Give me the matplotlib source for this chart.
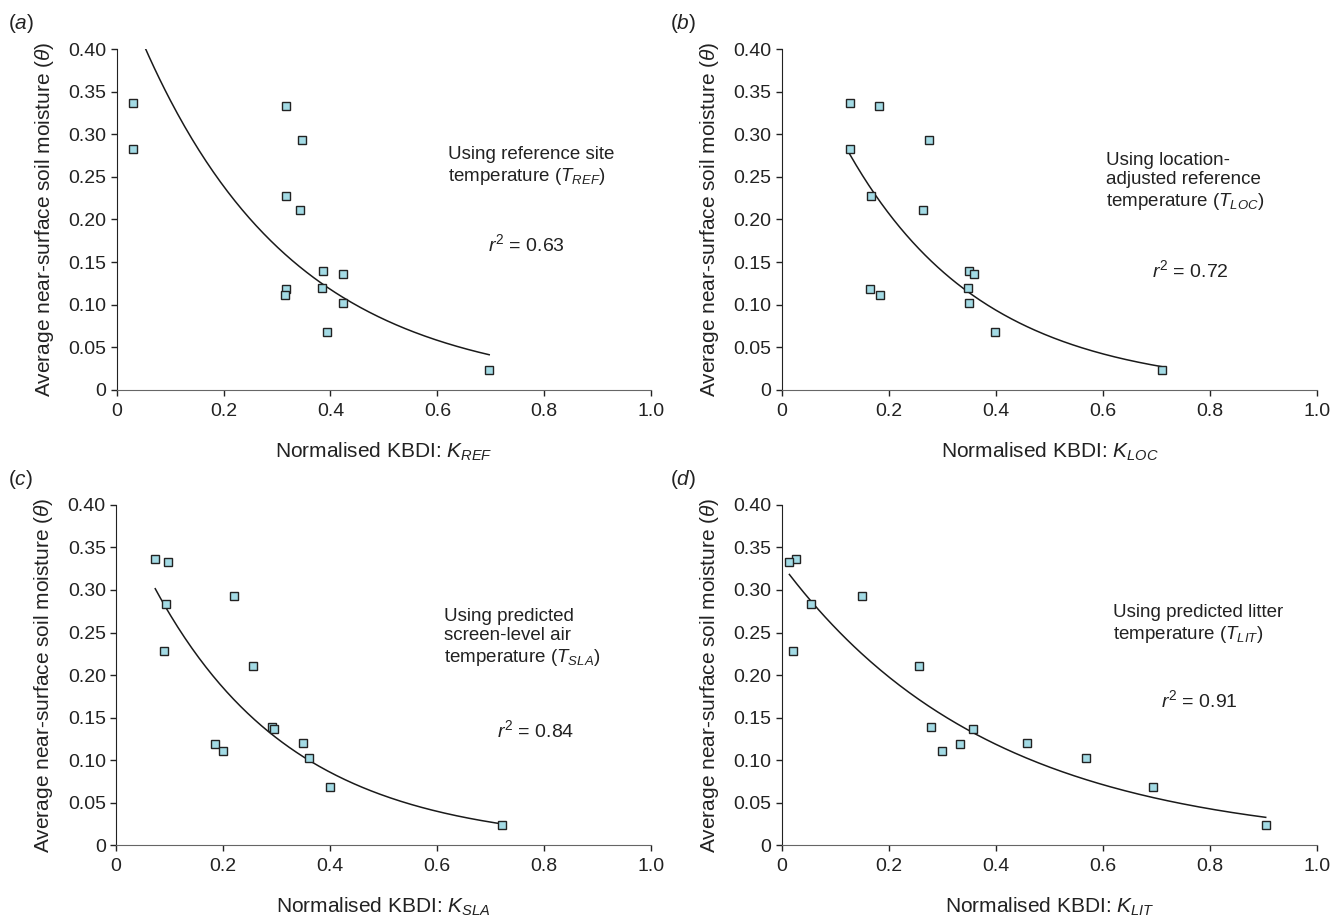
import numpy as np
import matplotlib; matplotlib.use('agg')
import matplotlib.pyplot as plt

plt.rcParams['font.family'] = ['Liberation Sans', 'DejaVu Sans']
plt.rcParams['mathtext.fontset'] = 'custom'
plt.rcParams['mathtext.rm'] = 'Liberation Sans'
plt.rcParams['mathtext.it'] = 'Liberation Sans:italic'
plt.rcParams['mathtext.bf'] = 'Liberation Sans:bold'

# Soil moisture (same sites in every panel)
theta = [0.337, 0.333, 0.293, 0.283, 0.228, 0.211, 0.139, 0.136, 0.120, 0.119, 0.111, 0.102, 0.068, 0.024]

# Normalised KBDI for each temperature source
k_ref = [0.031, 0.317, 0.346, 0.030, 0.317, 0.343, 0.386, 0.424, 0.384, 0.316, 0.315, 0.423, 0.394, 0.697]
k_loc = [0.127, 0.182, 0.275, 0.127, 0.166, 0.263, 0.350, 0.359, 0.348, 0.164, 0.184, 0.349, 0.398, 0.710]
k_sla = [0.073, 0.097, 0.221, 0.093, 0.090, 0.255, 0.291, 0.295, 0.349, 0.184, 0.199, 0.361, 0.400, 0.721]
k_lit = [0.026, 0.014, 0.150, 0.054, 0.020, 0.256, 0.279, 0.358, 0.458, 0.332, 0.300, 0.568, 0.693, 0.904]

panel_tags = ['a', 'b', 'c', 'd']
subscripts = ['REF', 'LOC', 'SLA', 'LIT']
notes = [
    'Using reference site\ntemperature ($T_{REF}$)',
    'Using location-\nadjusted reference\ntemperature ($T_{LOC}$)',
    'Using predicted\nscreen-level air\ntemperature ($T_{SLA}$)',
    'Using predicted litter\ntemperature ($T_{LIT}$)',
]
r2_text = ['0.63', '0.72', '0.84', '0.91']

xticks = [0, 0.2, 0.4, 0.6, 0.8, 1.0]
xtick_labels = ['0', '0.2', '0.4', '0.6', '0.8', '1.0']
yticks = [0, 0.05, 0.10, 0.15, 0.20, 0.25, 0.30, 0.35, 0.40]
ytick_labels = ['0', '0.05', '0.10', '0.15', '0.20', '0.25', '0.30', '0.35', '0.40']

# text placement (data coords) for the notes and r2
note_pos = [(0.62, 0.262), (0.606, 0.244), (0.613, 0.2435), (0.619, 0.260)]
r2_pos = [(0.694, 0.171), (0.692, 0.141), (0.712, 0.135), (0.709, 0.171)]

# axes rectangles in figure fractions
rects = [
    [0.0873, 0.5752, 0.3997, 0.3714],
    [0.5848, 0.5752, 0.4003, 0.3714],
    [0.0869, 0.0795, 0.4001, 0.3704],
    [0.5848, 0.0795, 0.4003, 0.3704],
]
tag_pos = [(0.006, 0.987), (0.501, 0.987), (0.006, 0.490), (0.501, 0.490)]

fig = plt.figure(figsize=(13.37, 9.18), dpi=100)
y = np.array(theta)
for i, k in enumerate([k_ref, k_loc, k_sla, k_lit]):
    ax = fig.add_axes(rects[i])
    x = np.array(k)

    # exponential trendline, fitted like a spreadsheet (least squares on ln y)
    b, ln_a = np.polyfit(x, np.log(y), 1)
    xs = np.linspace(x.min(), x.max(), 200)
    ax.plot(xs, np.exp(ln_a) * np.exp(b * xs), color='#1a1a1a', lw=1.1, zorder=2)

    ax.plot(x, y, ls='none', marker='s', ms=5.5, mfc='#a3dbe5', mec='#222222', mew=1.0, zorder=3)

    ax.set_xlim(0, 1.0)
    ax.set_ylim(0, 0.40)
    ax.set_xticks(xticks)
    ax.set_xticklabels(xtick_labels)
    ax.set_yticks(yticks)
    ax.set_yticklabels(ytick_labels)
    ax.tick_params(direction='out', length=4.5, width=1, labelsize=14, pad=3, colors='#222222')
    ax.tick_params(axis='x', pad=5)
    for s in ['top', 'right']:
        ax.spines[s].set_visible(False)
    ax.spines['left'].set_color('#222222')
    ax.spines['bottom'].set_color('#666666')

    ax.set_xlabel('Normalised KBDI: $K_{%s}$' % subscripts[i], fontsize=15, labelpad=15, color='#222222')
    ax.set_ylabel(r'Average near-surface soil moisture ($\theta$)', fontsize=15, labelpad=9, color='#222222')

    ax.text(note_pos[i][0], note_pos[i][1], notes[i], fontsize=13.5, ha='left', va='center',
            linespacing=1.2, color='#222222')
    ax.text(r2_pos[i][0], r2_pos[i][1], '$r^2$ = ' + r2_text[i], fontsize=14, ha='left', va='center',
            color='#222222')

    fig.text(tag_pos[i][0], tag_pos[i][1], '($%s$)' % panel_tags[i], fontsize=15, ha='left', va='top',
             color='#222222')

fig.savefig('out.png', dpi=100)
